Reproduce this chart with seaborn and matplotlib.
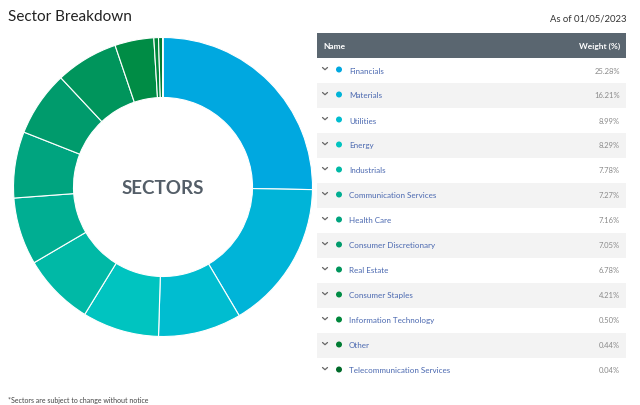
import matplotlib
matplotlib.use("Agg")
import matplotlib.pyplot as plt
import seaborn as sns
from matplotlib.patches import Rectangle, Circle

sectors = ["Financials", "Materials", "Utilities", "Energy", "Industrials",
           "Communication Services", "Health Care", "Consumer Discretionary",
           "Real Estate", "Consumer Staples", "Information Technology",
           "Other", "Telecommunication Services"]
weights = [25.28, 16.21, 8.99, 8.29, 7.78, 7.27, 7.16, 7.05, 6.78, 4.21, 0.50, 0.44, 0.04]
colors = ["#00A8E0", "#00B4D8", "#00BDD0", "#00C4C0", "#00B9A6", "#00AE92",
          "#00A47F", "#009B6C", "#00955C", "#008C45", "#00873C", "#007C33", "#006A2A"]
title = "Sector Breakdown"
as_of = "As of 01/05/2023"
center_label = "SECTORS"
footnote = "*Sectors are subject to change without notice"

sns.set_theme(style="white")
plt.rcParams["font.family"] = ["Lato", "DejaVu Sans"]

W, H = 640, 406
fig = plt.figure(figsize=(W / 100, H / 100), dpi=100)
fig.patch.set_facecolor("white")

# Donut
cx, cy, R = 163, 188, 150
ax = fig.add_axes([(cx - R) / W, (H - cy - R) / H, 2 * R / W, 2 * R / H])
ax.pie(weights, colors=colors, startangle=90, counterclock=False, radius=149.5 / 150,
       wedgeprops=dict(width=60 / 150, edgecolor="white", linewidth=0.8))
ax.set_xlim(-1, 1)
ax.set_ylim(-1, 1)
ax.set_aspect("equal")
ax.axis("off")
ax.text(0, 0, center_label, ha="center", va="center", fontsize=13.5,
        fontweight="bold", color="#545E68")

# Title, date, footnote
fig.text(8 / W, 1 - 17 / H, title, ha="left", va="center", fontsize=11, color="#222222")
fig.text(626 / W, 1 - 19 / H, as_of, ha="right", va="center", fontsize=6.8, color="#333333")
fig.text(8 / W, 1 - 401 / H, footnote, ha="left", va="center", fontsize=5, color="#444444")

# Table in pixel coordinates
tx = fig.add_axes([0, 0, 1, 1], facecolor="none")
tx.set_xlim(0, W)
tx.set_ylim(H, 0)
tx.axis("off")
x0, x1 = 317, 626
head_top, head_bot = 34, 59
row_h = 25
tx.add_patch(Rectangle((x0, head_top), x1 - x0, head_bot - head_top, color="#5A6670", lw=0))
tx.text(323, (head_top + head_bot) / 2, "Name", ha="left", va="center",
        fontsize=6, fontweight="bold", color="white")
tx.text(620, (head_top + head_bot) / 2, "Weight (%)", ha="right", va="center",
        fontsize=6, fontweight="bold", color="white")
for i, (name, w, c) in enumerate(zip(sectors, weights, colors)):
    top = head_bot + row_h * i
    ym = top + row_h / 2
    if i % 2 == 1:
        tx.add_patch(Rectangle((x0, top), x1 - x0, row_h, color="#F3F3F3", lw=0))
    tx.plot([322.5, 325, 327.5], [ym - 3, ym - 0.8, ym - 3], color="#666666", lw=0.9,
            solid_capstyle="round", solid_joinstyle="round")
    tx.add_patch(Circle((339, ym - 1), 3.0, color=c, lw=0))
    tx.text(349, ym - 0.5, name, ha="left", va="center", fontsize=5.8, color="#4A68B0")
    tx.text(620, ym - 0.5, f"{w:.2f}%", ha="right", va="center", fontsize=5.5, color="#8A8A8A")

fig.savefig("out.png", dpi=100, facecolor="white")
